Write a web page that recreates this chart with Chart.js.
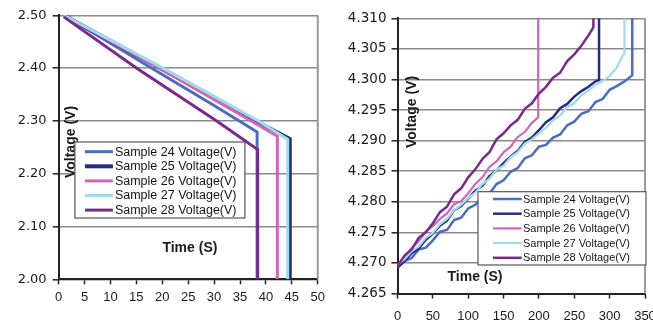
<!DOCTYPE html>
<html>
<head>
<meta charset="utf-8">
<script src="https://cdn.jsdelivr.net/npm/chart.js@4.4.1/dist/chart.umd.min.js"></script>
<style>
  html, body { margin: 0; padding: 0; background: #fff; overflow: hidden; }
  body { width: 653px; height: 325px; position: relative; }
  #leftChart { position: absolute; left: 0; top: 0; }
  #rightChart { position: absolute; left: 330px; top: 0; }
</style>
</head>
<body>
<canvas id="leftChart" width="330" height="325"></canvas>
<canvas id="rightChart" width="340" height="325"></canvas>
<script>
const seriesNames = [
  "Sample 24 Voltage(V)",
  "Sample 25 Voltage(V)",
  "Sample 26 Voltage(V)",
  "Sample 27 Voltage(V)",
  "Sample 28 Voltage(V)",
];

// left chart: discharge, time in s
const dischargeTime24 = [1, 10, 20, 30, 38.3, 38.3];
const dischargeVolt24 = [2.500, 2.447, 2.388, 2.329, 2.279, 2.000];
const dischargeTime25 = [1, 20, 38, 44.6, 44.6];
const dischargeVolt25 = [2.500, 2.398, 2.300, 2.266, 2.000];
const dischargeTime26 = [1, 20, 38, 42.2, 42.2];
const dischargeVolt26 = [2.500, 2.397, 2.295, 2.271, 2.000];
const dischargeTime27 = [1, 20, 38, 44.2, 44.2];
const dischargeVolt27 = [2.500, 2.401, 2.303, 2.265, 2.000];
const dischargeTime28 = [1, 15, 30.5, 38.4, 38.4];
const dischargeVolt28 = [2.497, 2.400, 2.300, 2.246, 2.000];

// right chart: charge, time in s
const chargeTime24 = [0, 10, 20, 30, 40, 50, 60, 70, 80, 90, 100, 110, 120, 130, 140, 150, 160, 170, 180, 190, 200,
  210, 220, 230, 240, 250, 260, 270, 280, 290, 300, 310, 320, 330, 332, 332];
const chargeVolt24 = [4.2692, 4.2703, 4.2708, 4.2722, 4.2725, 4.2737, 4.2751, 4.2754, 4.2770, 4.2774, 4.2789,
  4.2795, 4.2808, 4.2813, 4.2829, 4.2835, 4.2849, 4.2855, 4.2871, 4.2876, 4.2890, 4.2893, 4.2905, 4.2910,
  4.2925, 4.2931, 4.2944, 4.2948, 4.2963, 4.2968, 4.2983, 4.2989, 4.2996, 4.3005, 4.3007, 4.3100];
const chargeTime25 = [0, 10, 20, 30, 40, 50, 60, 70, 80, 90, 100, 110, 120, 130, 140, 150, 160, 170, 180, 190, 200,
  210, 220, 230, 240, 250, 260, 270, 280, 285, 285];
const chargeVolt25 = [4.2693, 4.2703, 4.2716, 4.2724, 4.2738, 4.2748, 4.2761, 4.2769, 4.2786, 4.2793, 4.2805,
  4.2818, 4.2826, 4.2842, 4.2851, 4.2863, 4.2874, 4.2883, 4.2898, 4.2905, 4.2917, 4.2930, 4.2938, 4.2953,
  4.2960, 4.2972, 4.2981, 4.2988, 4.2997, 4.2999, 4.3100];
const chargeTime26 = [0, 10, 20, 30, 40, 50, 60, 70, 80, 90, 100, 110, 120, 130, 140, 150, 160, 170, 180, 190, 199, 199];
const chargeVolt26 = [4.2695, 4.2710, 4.2724, 4.2736, 4.2751, 4.2760, 4.2772, 4.2781, 4.2796, 4.2801, 4.2814,
  4.2829, 4.2840, 4.2857, 4.2866, 4.2881, 4.2890, 4.2906, 4.2914, 4.2929, 4.2938, 4.3100];
const chargeTime27 = [0, 10, 20, 30, 40, 50, 60, 70, 80, 90, 100, 110, 120, 130, 140, 150, 160, 170, 180, 190, 200,
  210, 220, 230, 240, 250, 260, 270, 280, 290, 300, 310, 318, 321, 321];
const chargeVolt27 = [4.2697, 4.2706, 4.2719, 4.2727, 4.2741, 4.2749, 4.2763, 4.2772, 4.2786, 4.2795, 4.2806,
  4.2815, 4.2829, 4.2838, 4.2852, 4.2859, 4.2873, 4.2881, 4.2895, 4.2902, 4.2912, 4.2921, 4.2933, 4.2941,
  4.2955, 4.2961, 4.2974, 4.2982, 4.2991, 4.2997, 4.3006, 4.3019, 4.3038, 4.3042, 4.3100];
const chargeTime28 = [0, 10, 20, 30, 40, 50, 60, 70, 80, 90, 100, 110, 120, 130, 140, 150, 160, 170, 180, 190, 200,
  210, 220, 230, 240, 250, 260, 270, 277, 277];
const chargeVolt28 = [4.2695, 4.2712, 4.2722, 4.2741, 4.2750, 4.2765, 4.2783, 4.2792, 4.2812, 4.2822, 4.2840,
  4.2853, 4.2870, 4.2881, 4.2902, 4.2912, 4.2925, 4.2934, 4.2952, 4.2961, 4.2977, 4.2988, 4.3003, 4.3011,
  4.3030, 4.3041, 4.3055, 4.3072, 4.3085, 4.3100];

const seriesColors = ["#4a6cc6", "#262c80", "#d264bd", "#9edcec", "#7b2a8b"];

function toPoints(times, volts) {
  return times.map((t, i) => ({ x: t, y: volts[i] }));
}

// axis titles and the boxed legend sit inside the plot area
const innerText = {
  id: "innerText",
  beforeDatasetsDraw(chart) {
    const { ctx, chartArea: a } = chart;
    ctx.save();
    ctx.strokeStyle = "#9a9a9a";
    ctx.lineWidth = 2;
    ctx.beginPath();
    ctx.moveTo(a.right, a.top);
    ctx.lineTo(a.right, a.bottom);
    ctx.stroke();
    ctx.restore();
  },
  afterDraw(chart, args, o) {
    const { ctx, chartArea: a } = chart;
    ctx.save();
    ctx.fillStyle = "#1a1a1a";
    ctx.font = o.titleFont;
    ctx.textAlign = "center";
    ctx.textBaseline = "middle";
    ctx.save();
    ctx.translate(a.left + o.yTitle[0], a.top + o.yTitle[1]);
    ctx.rotate(-Math.PI / 2);
    ctx.fillText("Voltage (V)", 0, 0);
    ctx.restore();
    ctx.fillText("Time (S)", a.left + o.xTitle[0], a.top + o.xTitle[1]);

    const [bx, by, bw, bh] = o.box;
    const left = a.left + bx, top = a.top + by;
    ctx.fillStyle = "#fff";
    ctx.fillRect(left, top, bw, bh);
    ctx.strokeStyle = "#555";
    ctx.lineWidth = 1.2;
    ctx.strokeRect(left, top, bw, bh);

    ctx.font = o.legendFont;
    ctx.textAlign = "left";
    chart.data.datasets.forEach((ds, i) => {
      const y = top + o.rowTop + i * o.rowGap;
      ctx.strokeStyle = ds.borderColor;
      ctx.lineWidth = ds.borderWidth;
      ctx.beginPath();
      ctx.moveTo(left + o.lineX[0], y);
      ctx.lineTo(left + o.lineX[1], y);
      ctx.stroke();
      ctx.fillStyle = "#151515";
      ctx.fillText(ds.label, left + o.textX, y + 0.5);
    });
    ctx.restore();
  },
};

function buildChart(id, cfg) {
  return new Chart(document.getElementById(id), {
    type: "line",
    data: {
      datasets: cfg.series.map((s, i) => ({
        label: seriesNames[i],
        data: toPoints(s[0], s[1]),
        borderColor: seriesColors[i],
        borderWidth: cfg.lineWidths[i],
        pointRadius: 0,
        tension: 0,
        fill: false,
        order: 4 - i,
      })),
    },
    options: {
      responsive: false,
      animation: false,
      events: [],
      layout: { padding: cfg.padding },
      plugins: {
        legend: { display: false },
        tooltip: { enabled: false },
        innerText: cfg.inner,
      },
      scales: {
        x: {
          type: "linear",
          min: cfg.xMin,
          max: cfg.xMax,
          ticks: {
            stepSize: cfg.xStep,
            autoSkip: false,
            maxRotation: 0,
            color: "#1a1a1a",
            font: { family: "'Liberation Sans', Arial, sans-serif", size: cfg.xFont },
            padding: cfg.xPad,
          },
          grid: { drawOnChartArea: false, tickLength: 5, tickColor: "#222", tickWidth: 1.5 },
          border: { color: "#222", width: 2 },
          afterFit: (s) => { s.height = cfg.xHeight; },
        },
        y: {
          min: cfg.yMin,
          max: cfg.yMax,
          ticks: {
            stepSize: cfg.yStep,
            autoSkip: false,
            color: "#1a1a1a",
            font: { family: "'DejaVu Sans', sans-serif", size: cfg.yFont },
            padding: cfg.yPad,
            callback: (v) => v.toFixed(cfg.yDigits),
          },
          grid: { color: "#8a8a8a", lineWidth: 1.6, tickLength: 6, tickColor: "#222", tickWidth: 1.5 },
          border: { color: "#222", width: 2 },
          afterFit: (s) => { s.width = cfg.yWidth; },
        },
      },
    },
    plugins: [innerText],
  });
}

buildChart("leftChart", {
  series: [
    [dischargeTime24, dischargeVolt24],
    [dischargeTime25, dischargeVolt25],
    [dischargeTime26, dischargeVolt26],
    [dischargeTime27, dischargeVolt27],
    [dischargeTime28, dischargeVolt28],
  ],
  lineWidths: [3, 4, 3, 3, 3],
  padding: { top: 15.3, right: 7.3, left: 0, bottom: 0 },
  xMin: 0, xMax: 50, xStep: 5, xFont: 13, xPad: 5, xHeight: 45.7,
  yMin: 2.0, yMax: 2.5, yStep: 0.1, yFont: 13, yPad: 6, yDigits: 2, yWidth: 58.6,
  inner: {
    titleFont: "bold 14px 'Liberation Sans', Arial, sans-serif",
    yTitle: [12.3, 126.7],
    xTitle: [131.3, 232.7],
    box: [16.3, 126.7, 170, 76],
    legendFont: "12.5px 'Liberation Sans', Arial, sans-serif",
    rowTop: 9.7, rowGap: 14.6,
    lineX: [10, 38], textX: 40,
  },
});

buildChart("rightChart", {
  series: [
    [chargeTime24, chargeVolt24],
    [chargeTime25, chargeVolt25],
    [chargeTime26, chargeVolt26],
    [chargeTime27, chargeVolt27],
    [chargeTime28, chargeVolt28],
  ],
  lineWidths: [2.5, 2.5, 2.2, 2.2, 2.5],
  padding: { top: 18.3, right: 25, left: 0, bottom: 0 },
  xMin: 0, xMax: 350, xStep: 50, xFont: 13, xPad: 10, xHeight: 31.5,
  yMin: 4.265, yMax: 4.31, yStep: 0.005, yFont: 13.5, yPad: 5, yDigits: 3, yWidth: 67.5,
  inner: {
    titleFont: "bold 14px 'Liberation Sans', Arial, sans-serif",
    yTitle: [14.2, 93.7],
    xTitle: [77.5, 258.7],
    box: [80.5, 173.4, 168, 73.3],
    legendFont: "11px 'Liberation Sans', Arial, sans-serif",
    rowTop: 7.3, rowGap: 14.7,
    lineX: [15, 43.7], textX: 45,
  },
});
</script>
</body>
</html>
